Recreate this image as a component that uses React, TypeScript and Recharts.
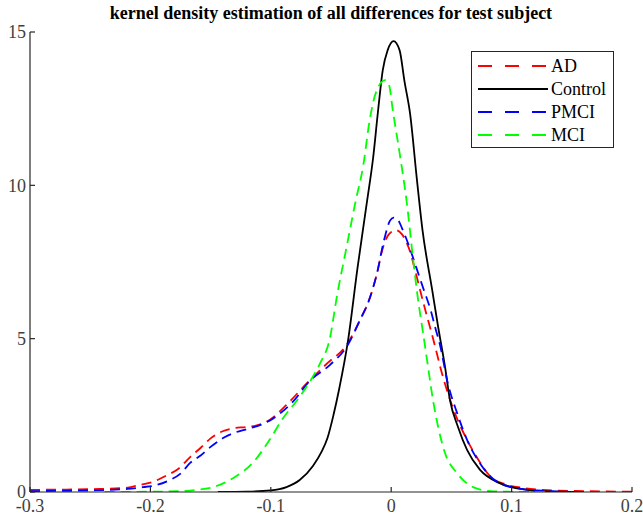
import { LineChart, Line, XAxis, YAxis } from 'recharts';

const X_TICKS = [-0.3, -0.2, -0.1, 0, 0.1, 0.2];
const Y_TICKS = [0, 5, 10, 15];

// AD (red dashed)
const AD_X = [-0.3, -0.27, -0.242, -0.219, -0.209, -0.198, -0.186, -0.177, -0.167, -0.158, -0.15, -0.14, -0.131, -0.12, -0.111, -0.101, -0.087, -0.07, -0.053, -0.037, -0.026, -0.018, -0.012, -0.007, -0.002, 0.004, 0.009, 0.0156, 0.021, 0.0265, 0.0348, 0.043, 0.051, 0.063, 0.071, 0.082, 0.095, 0.11, 0.13, 0.16, 0.2];
const AD_Y = [0.07, 0.08, 0.1, 0.14, 0.23, 0.33, 0.55, 0.75, 1.14, 1.45, 1.75, 1.98, 2.08, 2.12, 2.18, 2.35, 2.84, 3.55, 4.2, 4.8, 5.6, 6.3, 7.1, 7.95, 8.4, 8.54, 8.4, 7.85, 7.05, 6.2, 5.0, 3.75, 2.77, 1.7, 1.14, 0.52, 0.25, 0.13, 0.06, 0.03, 0.01];

// Control (black solid)
const CONTROL_X = [-0.144, -0.12, -0.1, -0.087, -0.076, -0.065, -0.058, -0.053, -0.048, -0.043, -0.036, -0.028, -0.02, -0.015, -0.011, -0.007, -0.003, 0.002, 0.007, 0.011, 0.0156, 0.0214, 0.026, 0.034, 0.039, 0.0447, 0.0488, 0.0555, 0.063, 0.0738, 0.09, 0.113, 0.13, 0.16];
const CONTROL_Y = [0, 0.01, 0.05, 0.16, 0.39, 0.85, 1.3, 1.75, 2.5, 3.4, 4.9, 7.3, 9.5, 10.9, 12.4, 13.76, 14.4, 14.7, 14.4, 13.4, 12.36, 10.17, 8.54, 6.6, 5.38, 4.08, 3.0, 2.12, 1.37, 0.72, 0.29, 0.07, 0.02, 0];

// PMCI (blue dashed)
const PMCI_X = [-0.3, -0.25, -0.219, -0.206, -0.198, -0.184, -0.175, -0.167, -0.158, -0.15, -0.14, -0.131, -0.12, -0.109, -0.098, -0.082, -0.067, -0.051, -0.036, -0.026, -0.018, -0.012, -0.006, -0.001, 0.002, 0.006, 0.009, 0.015, 0.021, 0.027, 0.033, 0.037, 0.0405, 0.047, 0.0547, 0.063, 0.0738, 0.088, 0.105, 0.125, 0.146];
const PMCI_Y = [0.03, 0.05, 0.1, 0.16, 0.2, 0.39, 0.6, 0.95, 1.2, 1.47, 1.75, 1.92, 2.05, 2.18, 2.4, 2.93, 3.65, 4.14, 4.8, 5.6, 6.3, 7.1, 8.2, 8.85, 8.95, 8.85, 8.6, 8.0, 7.3, 6.6, 5.9, 5.3, 4.8, 3.55, 2.58, 1.7, 0.93, 0.33, 0.12, 0.04, 0.01];

// MCI (green dashed)
const MCI_X = [-0.238, -0.2, -0.175, -0.161, -0.148, -0.131, -0.115, -0.101, -0.09, -0.078, -0.066, -0.059, -0.051, -0.045, -0.037, -0.03, -0.023, -0.018, -0.012, -0.005, -0.002, 0.0015, 0.007, 0.013, 0.018, 0.022, 0.0265, 0.0306, 0.0347, 0.039, 0.0447, 0.0546, 0.068, 0.085, 0.105, 0.132];
const MCI_Y = [0, 0.01, 0.03, 0.07, 0.16, 0.46, 0.95, 1.7, 2.4, 3.0, 3.7, 4.2, 5.0, 6.4, 8.0, 9.4, 10.7, 12.1, 13.1, 13.43, 13.3, 12.4, 11.05, 9.42, 7.66, 6.36, 5.18, 4.08, 3.0, 2.12, 1.27, 0.62, 0.16, 0.02, 0.005, 0];

const toPoints = (xs: number[], ys: number[]) => xs.map((x, i) => ({ x, y: ys[i] }));

const SERIES = [
  { name: 'AD', color: '#ff0000', dash: '10 6', points: toPoints(AD_X, AD_Y) },
  { name: 'Control', color: '#000000', dash: undefined, points: toPoints(CONTROL_X, CONTROL_Y) },
  { name: 'PMCI', color: '#0000ff', dash: '10 6', points: toPoints(PMCI_X, PMCI_Y) },
  { name: 'MCI', color: '#00ff00', dash: '10 6', points: toPoints(MCI_X, MCI_Y) },
];

const FONT = '"Liberation Serif", "DejaVu Serif", serif';
const AXIS_COLOR = '#262626';
const tickStyle = { fontSize: 18, fontFamily: 'Liberation Serif', fill: '#404040' };

export default function App() {
  return (
    <div style={{ position: 'absolute', left: 0, top: 0, width: 643, height: 518, background: '#fff', fontFamily: FONT }}>
      <div
        style={{
          position: 'absolute', left: 30, width: 602, top: 3, textAlign: 'center',
          fontWeight: 'bold', fontSize: 18, lineHeight: '20px', color: '#000',
        }}
      >
        kernel density estimation of all differences for test subject
      </div>
      <LineChart width={643} height={518} margin={{ top: 32, right: 11, bottom: 0, left: 0 }} style={{ fontFamily: FONT }}>
        <XAxis
          dataKey="x" type="number" domain={[-0.3, 0.2]} ticks={X_TICKS} allowDataOverflow
          height={26} tickSize={-5} tickMargin={12} interval={0}
          fontSize={18} fontFamily="Liberation Serif"
          stroke={AXIS_COLOR} strokeWidth={1.2} tick={tickStyle}
        />
        <XAxis
          xAxisId="top" orientation="top" type="number" domain={[-0.3, 0.2]} ticks={X_TICKS} allowDataOverflow
          height={0} tickSize={-5} tick={false} stroke={AXIS_COLOR} strokeWidth={1.2}
        />
        <YAxis
          type="number" domain={[0, 15]} ticks={Y_TICKS} allowDataOverflow
          width={30} tickSize={-5} tickMargin={9} interval={0}
          fontSize={18} fontFamily="Liberation Serif"
          stroke={AXIS_COLOR} strokeWidth={1.2} tick={tickStyle}
        />
        <YAxis
          yAxisId="right" orientation="right" type="number" domain={[0, 15]} ticks={Y_TICKS} allowDataOverflow
          width={0} tickSize={-5} tick={false} stroke={AXIS_COLOR} strokeWidth={1.2}
        />
        {SERIES.map((s) => (
          <Line
            key={s.name}
            data={s.points}
            dataKey="y"
            type="monotone"
            stroke={s.color}
            strokeWidth={1.8}
            strokeDasharray={s.dash}
            dot={false}
            activeDot={false}
            isAnimationActive={false}
          />
        ))}
      </LineChart>
      <div
        style={{
          position: 'absolute', left: 471, top: 51, width: 141, height: 95,
          border: `1.2px solid ${AXIS_COLOR}`, background: '#fff',
        }}
      >
        {SERIES.map((s, i) => (
          <div key={s.name} style={{ position: 'absolute', left: 6, top: 3 + i * 23, height: 22, display: 'flex', alignItems: 'center' }}>
            <svg width={70} height={4} style={{ display: 'block' }}>
              <line x1={0} y1={2} x2={70} y2={2} stroke={s.color} strokeWidth={1.8} strokeDasharray={s.dash ? '14 13' : undefined} />
            </svg>
            <span style={{ fontSize: 18, color: '#000', marginLeft: 3 }}>{s.name}</span>
          </div>
        ))}
      </div>
    </div>
  );
}
